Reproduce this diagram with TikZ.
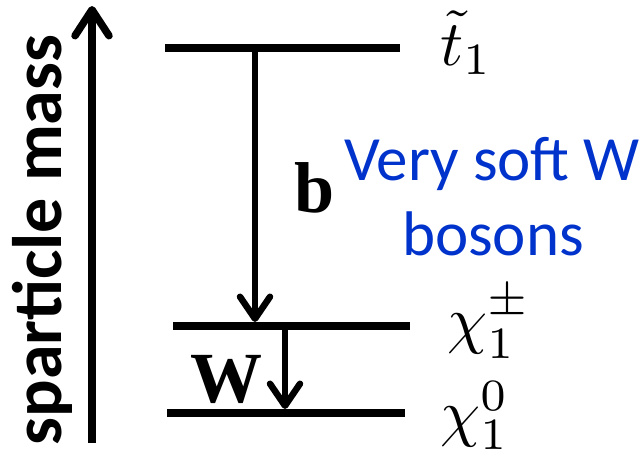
\documentclass[tikz,border=0pt]{standalone}
\usepackage{graphicx}
\usepackage{amsmath}
\usepackage{fontspec}
\newfontfamily\calib{Carlito}
\newfontfamily\serifb{Liberation Serif}
\usetikzlibrary{arrows.meta}
\definecolor{softblue}{HTML}{0033CC}
\tikzset{
  level/.style={line width=8.5pt},
  decay/.style={line width=6.5pt,-{Straight Barb[round,length=22pt,width=30pt]}},
  axisarrow/.style={line width=7.5pt,-{Straight Barb[round,length=26pt,width=34pt]}},
  statelabel/.style={anchor=base west,inner sep=0pt},
  particle/.style={anchor=base,inner sep=0pt,font=\serifb\bfseries\fontsize{72}{80}\selectfont},
}
\newcommand{\bigmath}[1]{\scalebox{6.4}{$#1$}}
\begin{document}
\begin{tikzpicture}[x=1pt,y=-1pt]
\useasboundingbox (0,0) rectangle (644,460);
% axis
\coordinate (axbot) at (92,443);
\coordinate (axtop) at (92,6);
\draw[axisarrow] (axbot) -- (axtop);
\node[rotate=90,anchor=base,inner sep=0pt,font=\calib\bfseries\fontsize{70}{80}\selectfont] (axlabel) at (61,240) {sparticle mass};
% levels
\coordinate (t1L) at (165,48);
\coordinate (t1R) at (400,48);
\coordinate (c1L) at (173,326);
\coordinate (c1R) at (410,326);
\coordinate (n1L) at (167,413);
\coordinate (n1R) at (405,413);
\draw[level] (t1L) -- (t1R);
\draw[level] (c1L) -- (c1R);
\draw[level] (n1L) -- (n1R);
% decays
\coordinate (bstart) at (255,48);
\coordinate (bend) at (255,322);
\coordinate (wstart) at (285,326);
\coordinate (wend) at (285,409);
\draw[decay] (bstart) -- (bend);
\draw[decay] (wstart) -- (wend);
% labels
\node[statelabel] (stop) at (440,65) {\bigmath{\tilde{t}_1}};
\node[statelabel] (chargino) at (447,341) {\bigmath{\chi_1^{\pm}}};
\node[statelabel] (neutralino) at (440,434) {\bigmath{\chi_1^{0}}};
\node[particle] (blab) at (315,212) {b};
\node[particle] (wlab) at (226,402) {W};
\node[anchor=base,inner sep=0pt,text=softblue,font=\calib\fontsize{63}{75}\selectfont] (soft1) at (492,180) {Very soft W};
\node[anchor=base,inner sep=0pt,text=softblue,font=\calib\fontsize{63}{75}\selectfont] (soft2) at (493,255) {bosons};
\end{tikzpicture}
\end{document}
